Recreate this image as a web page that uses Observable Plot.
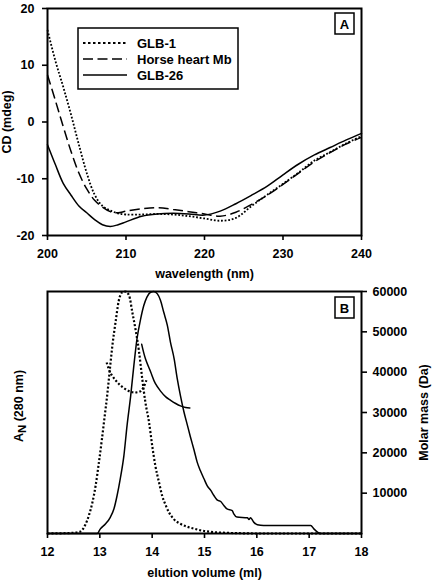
<!DOCTYPE html>
<html><head><meta charset="utf-8">
<script src="https://cdn.jsdelivr.net/npm/d3@7"></script>
<script src="https://cdn.jsdelivr.net/npm/@observablehq/plot@0.6"></script>
<style>
body{margin:0;background:#fff;}
#wrap{width:435px;height:585px;}
#wrap svg{display:block;}
</style></head><body><div id="wrap"></div>
<script>
// ---------- Panel A: CD spectra ----------
const seriesA = ["GLB-1", "Horse heart Mb", "GLB-26"];
const wavelength = [200,201,202,203,204,205,206,207,208,209,210,212,214,216,218,220,222,224,226,228,230,232,234,236,238,240];
const cdGLB1 = [16.2,10.8,6.2,1.3,-4.0,-9.0,-12.8,-14.8,-15.6,-16.1,-16.3,-16.3,-16.2,-16.3,-16.6,-17.0,-17.4,-16.9,-14.8,-12.8,-10.9,-8.9,-6.8,-5.3,-3.8,-2.5];
const cdMb   = [8.3,3.8,-0.8,-5.2,-9.0,-11.8,-13.8,-15.0,-15.8,-16.0,-15.7,-15.3,-15.1,-15.4,-15.8,-16.2,-16.6,-15.9,-14.5,-12.9,-11.0,-9.0,-7.0,-5.4,-3.9,-2.7];
const cdGLB26 = [-4.0,-7.5,-10.8,-12.9,-14.8,-16.0,-17.2,-18.1,-18.4,-18.1,-17.6,-16.6,-16.2,-16.1,-16.2,-16.4,-15.7,-14.4,-12.9,-11.3,-9.3,-7.4,-5.8,-4.5,-3.2,-2.0];
const xTicksA = [200,210,220,230,240];
const yTicksA = [-20,-10,0,10,20];

// ---------- Panel B: elution profiles ----------
const volGLB1 = [12.0,12.3,12.5,12.63,12.72,12.79,12.86,12.92,12.98,13.04,13.09,13.14,13.19,13.24,13.30,13.36,13.43,13.49,13.56,13.62,13.68,13.75,13.81,13.87,13.94,14.00,14.06,14.13,14.19,14.26,14.32,14.41,14.54,14.67,14.80,14.93,15.05,15.2,15.4,15.7,16.0,18.0];
const absGLB1 = [0,0.001,0.003,0.008,0.035,0.074,0.13,0.198,0.29,0.39,0.48,0.57,0.675,0.777,0.873,0.96,0.997,1.0,0.983,0.915,0.846,0.75,0.64,0.543,0.46,0.364,0.281,0.212,0.157,0.116,0.088,0.06,0.04,0.028,0.02,0.013,0.009,0.005,0.003,0.001,0,0];
const volGLB26 = [12.0,12.95,13.01,13.11,13.20,13.27,13.33,13.39,13.46,13.52,13.59,13.65,13.71,13.78,13.84,13.90,13.97,14.03,14.10,14.16,14.22,14.29,14.35,14.42,14.48,14.54,14.61,14.67,14.73,14.80,14.86,14.92,14.99,15.05,15.12,15.18,15.24,15.31,15.37,15.43,15.53,15.56,15.62,15.82,15.85,15.88,15.94,16.01,16.13,17.03,17.09,17.16,17.22,18.0];
const absGLB26 = [0,0,0.019,0.04,0.067,0.102,0.157,0.226,0.322,0.446,0.57,0.694,0.804,0.887,0.942,0.977,0.997,1.0,0.99,0.963,0.915,0.86,0.79,0.722,0.639,0.57,0.5,0.45,0.40,0.345,0.295,0.26,0.226,0.198,0.178,0.157,0.139,0.132,0.116,0.102,0.095,0.081,0.068,0.065,0.058,0.065,0.047,0.036,0.033,0.033,0.019,0.006,0,0];
const massVolGLB1 = [13.13,13.20,13.30,13.39,13.49,13.59,13.68,13.78,13.84,13.89];
const massGLB1 = [42400,39900,38000,36770,35780,35130,34960,35300,36370,38000];
const massVolGLB26 = [13.80,13.87,13.97,14.06,14.16,14.26,14.35,14.45,14.54,14.64,14.72];
const massGLB26 = [46900,43400,40100,37200,35300,33860,33050,32230,31640,31230,31130];
const xTicksB = [12,13,14,15,16,17,18];
const massTicks = [10000,20000,30000,40000,50000,60000];
const massMax = 60000;

const FONT = "'Liberation Sans', Arial, Helvetica, sans-serif";
const FS = 12.5;
const style = {fontFamily: FONT, fontWeight: "bold", fontSize: FS + "px", color: "black", background: "white", overflow: "visible"};

const dotA = "1.8,1.8", dashA = "10,4.5";

const chartA = Plot.plot({
  width: 435, height: 280,
  marginLeft: 47, marginRight: 74, marginTop: 8, marginBottom: 45,
  style,
  x: {domain: [200, 240]},
  y: {domain: [-20, 20]},
  marks: [
    Plot.axisX({ticks: xTicksA, tickFormat: d => String(d), tickSize: 5, tickPadding: 9, strokeWidth: 1.6, label: "wavelength (nm)", labelAnchor: "center", labelArrow: "none", labelOffset: 42}),
    Plot.axisY({ticks: yTicksA, tickFormat: d => String(d), tickSize: 5, tickPadding: 8, strokeWidth: 1.6, label: "CD (mdeg)", labelAnchor: "center", labelArrow: "none", labelOffset: 45}),
    Plot.line(wavelength, {x: wavelength, y: cdGLB1, curve: "catmull-rom", stroke: "black", strokeWidth: 1.8, strokeDasharray: dotA, strokeLinecap: "butt"}),
    Plot.line(wavelength, {x: wavelength, y: cdMb, curve: "catmull-rom", stroke: "black", strokeWidth: 1.5, strokeDasharray: dashA, strokeLinecap: "butt"}),
    Plot.line(wavelength, {x: wavelength, y: cdGLB26, curve: "catmull-rom", stroke: "black", strokeWidth: 1.5}),
    Plot.frame({stroke: "black", strokeWidth: 2})
  ]
});

const chartB = Plot.plot({
  width: 435, height: 305,
  marginLeft: 47, marginRight: 74, marginTop: 11, marginBottom: 52,
  style,
  x: {domain: [12, 18]},
  y: {domain: [0, massMax]},
  marks: [
    Plot.axisX({ticks: xTicksB, tickFormat: d => String(d), tickSize: 5, tickPadding: 9, strokeWidth: 1.6, label: "elution volume (ml)", labelAnchor: "center", labelArrow: "none", labelOffset: 43}),
    Plot.axisY({anchor: "right", ticks: massTicks, tickFormat: d => String(d), tickSize: 5, tickPadding: 6, strokeWidth: 1.6, label: "Molar mass (Da)", labelAnchor: "center", labelArrow: "none", labelOffset: 66}),
    Plot.line(volGLB1, {x: volGLB1, y: absGLB1.map(a => a * massMax), curve: "monotone-x", stroke: "black", strokeWidth: 2.2, strokeDasharray: "2,2", strokeLinecap: "butt"}),
    Plot.line(volGLB26, {x: volGLB26, y: absGLB26.map(a => a * massMax), curve: "monotone-x", stroke: "black", strokeWidth: 1.5}),
    Plot.line(massVolGLB1, {x: massVolGLB1, y: massGLB1, curve: "catmull-rom", stroke: "black", strokeWidth: 2.2, strokeDasharray: "2,2", strokeLinecap: "butt"}),
    Plot.line(massVolGLB26, {x: massVolGLB26, y: massGLB26, curve: "catmull-rom", stroke: "black", strokeWidth: 1.5}),
    Plot.frame({stroke: "black", strokeWidth: 2})
  ]
});

const wrap = document.getElementById("wrap");
wrap.appendChild(chartA);
wrap.appendChild(chartB);

// Legend in panel A
const sA = d3.select(chartA);
const leg = sA.append("g").attr("font-family", FONT).attr("font-weight", "bold").attr("font-size", 13).attr("text-anchor", "start");
leg.append("rect").attr("x", 78).attr("y", 28).attr("width", 160).attr("height", 61)
  .attr("fill", "white").attr("stroke", "black").attr("stroke-width", 1.5);
const legStyles = [
  {dash: "2.5,2.5", w: 2},
  {dash: "10,4.5", w: 1.5},
  {dash: null, w: 1.5}
];
seriesA.forEach((name, i) => {
  const yy = 43 + i * 16;
  leg.append("line").attr("x1", 83).attr("x2", 127).attr("y1", yy).attr("y2", yy)
    .attr("stroke", "black").attr("stroke-width", legStyles[i].w)
    .attr("stroke-dasharray", legStyles[i].dash);
  leg.append("text").attr("x", 137).attr("y", yy + 4.5).attr("fill", "black").text(name);
});

// Panel letters
function panelLetter(svg, letter, top) {
  const g = svg.append("g");
  g.append("rect").attr("x", 335).attr("y", top).attr("width", 19).attr("height", 21)
    .attr("fill", "white").attr("stroke", "black").attr("stroke-width", 1.5);
  g.append("text").attr("x", 344.5).attr("y", top + 15.5).attr("text-anchor", "middle")
    .attr("font-family", FONT).attr("font-weight", "bold").attr("font-size", 13).attr("fill", "black").text(letter);
}
panelLetter(sA, "A", 13);
const sB = d3.select(chartB);
panelLetter(sB, "B", 17);

// Left axis label of panel B with subscript
const lab = sB.append("text")
  .attr("transform", "translate(23,126) rotate(-90)")
  .attr("text-anchor", "middle")
  .attr("font-family", FONT).attr("font-weight", "bold").attr("font-size", FS).attr("fill", "black");
lab.append("tspan").text("A");
lab.append("tspan").attr("dy", 3).attr("font-size", FS - 1).text("N");
lab.append("tspan").attr("dy", -3).text(" (280 nm)");
</script>
</body></html>
